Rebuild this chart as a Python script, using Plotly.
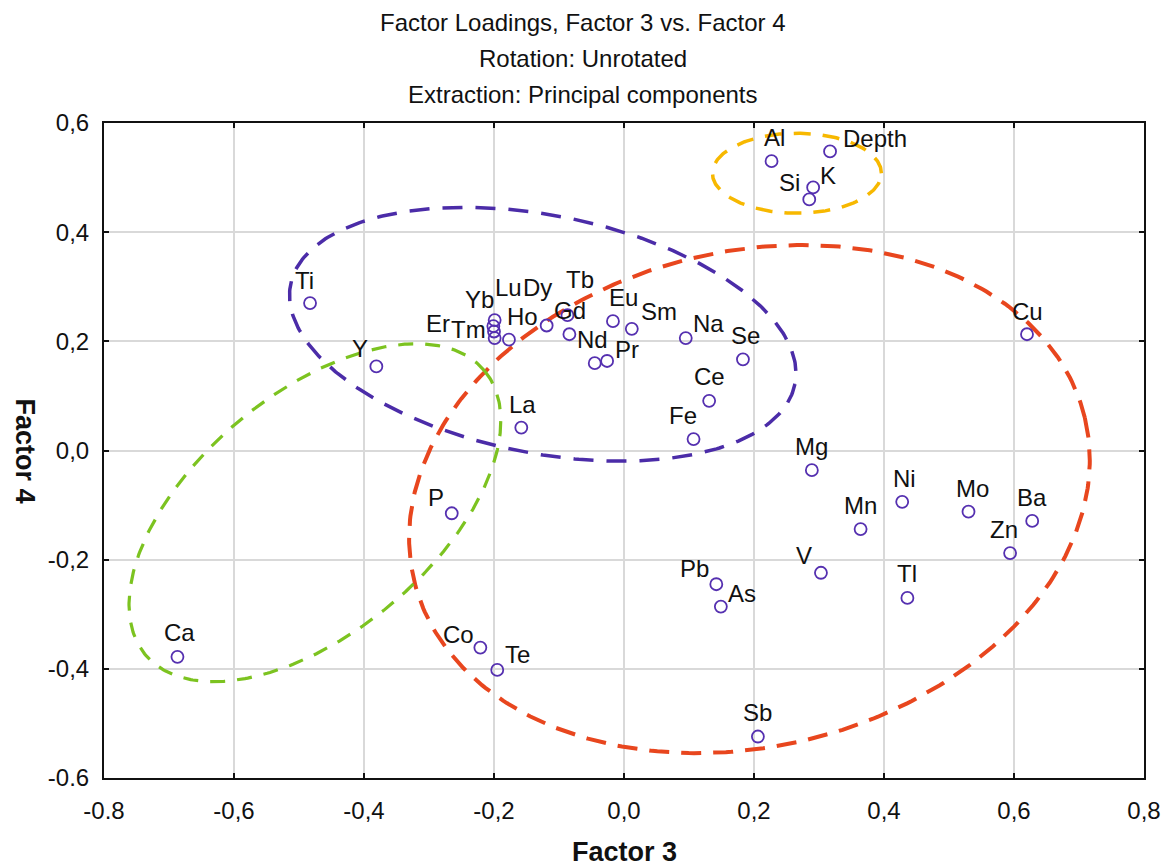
import numpy as np
import plotly.graph_objects as go

# ---------------- data ----------------
elements = ["Ca", "Ti", "Y", "Yb", "Lu", "Er", "Tm", "Ho", "Dy", "Tb", "Gd", "Nd", "Pr",
            "Eu", "Sm", "Na", "Se", "Ce", "Fe", "La", "Cu", "Al", "Depth", "K", "Si",
            "Mg", "Mn", "Ni", "Mo", "Ba", "Zn", "V", "Tl", "Pb", "As", "Sb", "P", "Co", "Te"]
factor3 = [-0.687, -0.483, -0.381, -0.199, -0.201, -0.200, -0.199, -0.177, -0.119, -0.087,
           -0.084, -0.045, -0.026, -0.017, 0.012, 0.095, 0.183, 0.131, 0.107, -0.158,
           0.620, 0.227, 0.317, 0.291, 0.285, 0.289, 0.364, 0.428, 0.530, 0.628, 0.594,
           0.303, 0.436, 0.142, 0.149, 0.206, -0.265, -0.221, -0.195]
factor4 = [-0.378, 0.270, 0.154, 0.239, 0.228, 0.218, 0.206, 0.203, 0.229, 0.248,
           0.213, 0.160, 0.164, 0.237, 0.223, 0.206, 0.167, 0.091, 0.021, 0.042,
           0.213, 0.530, 0.548, 0.482, 0.460, -0.036, -0.144, -0.094, -0.112, -0.129, -0.188,
           -0.224, -0.270, -0.245, -0.286, -0.524, -0.115, -0.361, -0.402]

x_tickvals = [-0.8, -0.6, -0.4, -0.2, 0.0, 0.2, 0.4, 0.6, 0.8]
x_ticktext = ["-0.8", "-0,6", "-0,4", "-0,2", "0,0", "0,2", "0,4", "0,6", "0,8"]
y_tickvals = [-0.6, -0.4, -0.2, 0.0, 0.2, 0.4, 0.6]
y_ticktext = ["-0.6", "-0,4", "-0,2", "0,0", "0,2", "0,4", "0,6"]

title_lines = ["Factor Loadings, Factor 3 vs. Factor 4",
               "Rotation: Unrotated",
               "Extraction: Principal components"]

# ---------------- styling / layout helpers ----------------
# label offsets in pixels (dx right, dy up); default above the point
label_offsets = {
    "Ca": (2, 24), "Ti": (-6, 23), "Y": (-16, 18), "Yb": (-15, 21), "Lu": (15, 39),
    "Dy": (-9, 38), "Er": (-56, 8), "Tm": (-26, 9), "Ho": (14, 23), "Tb": (13, 36),
    "Gd": (1, 24), "Nd": (-2, 24), "Pr": (20, 11), "Eu": (11, 24), "Sm": (27, 17),
    "Na": (23, 15), "Se": (3, 24), "Ce": (0, 24), "Fe": (-11, 24), "Cu": (0, 23),
    "Al": (3, 24), "Depth": (45, 13), "K": (15, 12), "Si": (-20, 17), "La": (1, 23),
    "Mg": (0, 24), "Mn": (0, 24), "Ni": (2, 23), "Mo": (4, 23), "Ba": (0, 23),
    "Zn": (-6, 24), "V": (-17, 17), "Tl": (0, 24), "Pb": (-22, 16), "As": (21, 13),
    "Sb": (0, 24), "P": (-16, 16), "Co": (-22, 13), "Te": (20, 15),
}

# hand-drawn grouping ellipses: centre and two conjugate semi-axis vectors (data units)
ellipses = [
    dict(c=(0.193, -0.089), a=(0.516, 0.149), b=(0.089, -0.441), color="#E8461E", width=4, dash="20px,12px"),
    dict(c=(-0.125, 0.213), a=(0.388, -0.091), b=(-0.035, -0.214), color="#4B2CA8", width=3.5, dash="20px,13px"),
    dict(c=(-0.4755, -0.114), a=(0.261, 0.260), b=(0.117, -0.168), color="#7CC320", width=3.2, dash="15px,12px"),
    dict(c=(0.266, 0.508), a=(0.130, 0.0), b=(0.0, 0.0733), color="#F7B800", width=3.5, dash="17px,12px"),
]

FONT = "Liberation Sans, Arial, sans-serif"
NARROW = "Liberation Sans Narrow, Arial Narrow, sans-serif"
fig = go.Figure()

t = np.linspace(0, 2 * np.pi, 400)
for e in ellipses:
    ex = e["c"][0] + e["a"][0] * np.cos(t) + e["b"][0] * np.sin(t)
    ey = e["c"][1] + e["a"][1] * np.cos(t) + e["b"][1] * np.sin(t)
    fig.add_trace(go.Scatter(x=ex, y=ey, mode="lines",
                             line=dict(color=e["color"], width=e["width"], dash=e["dash"]),
                             hoverinfo="skip", showlegend=False))

fig.add_trace(go.Scatter(
    x=factor3, y=factor4, mode="markers", text=elements,
    marker=dict(symbol="circle-open", size=12, color="#5530B0", line=dict(width=1.8, color="#5530B0")),
    showlegend=False, hoverinfo="text"))

annotations = []
for name, xv, yv in zip(elements, factor3, factor4):
    dx, dy = label_offsets.get(name, (0, 24))
    annotations.append(dict(x=xv, y=yv, xref="x", yref="y", text=name, showarrow=False,
                            xanchor="center", yanchor="middle", xshift=dx, yshift=dy,
                            font=dict(family=FONT, size=24, color="#111111")))

L, R, T, B = 104, 22, 123, 88
W, H = 1173, 866
title_x = (W / 2 - L) / (W - L - R)  # title centred on the page
for i, line in enumerate(title_lines):
    annotations.append(dict(x=title_x, y=1, xref="paper", yref="paper", text=line, showarrow=False,
                            xanchor="center", yanchor="middle", yshift=101 - 36 * i,
                            font=dict(family=FONT, size=24, color="#111111")))

annotations.append(dict(x=0.5, y=0, xref="paper", yref="paper", text="<b>Factor 3</b>",
                        showarrow=False, xanchor="center", yanchor="middle", yshift=-74,
                        font=dict(family=NARROW, size=27, color="#111111")))
annotations.append(dict(x=0, y=0.5, xref="paper", yref="paper", text="<b>Factor 4</b>",
                        showarrow=False, xanchor="center", yanchor="middle", xshift=-79, textangle=90,
                        font=dict(family=NARROW, size=27, color="#111111")))

axis_common = dict(showgrid=True, gridcolor="#D9D9D9", gridwidth=2, zeroline=False,
                   showline=True, linecolor="#111111", linewidth=2, mirror="ticks",
                   ticks="inside", ticklen=5, tickwidth=2, tickcolor="#111111",
                   tickfont=dict(family=FONT, size=24, color="#111111"))

fig.update_layout(
    width=W, height=H,
    margin=dict(l=L, r=R, t=T, b=B),
    paper_bgcolor="white", plot_bgcolor="white",
    xaxis=dict(range=[-0.8, 0.8], tickvals=x_tickvals, ticktext=x_ticktext,
               ticklabelstandoff=10, **axis_common),
    yaxis=dict(range=[-0.6, 0.6], tickvals=y_tickvals, ticktext=y_ticktext,
               ticklabelstandoff=8, **axis_common),
    annotations=annotations,
)

fig.write_html("out.html",
               config={"displayModeBar": False},
               post_script="document.body.style.margin='0';document.body.style.overflow='hidden';")
